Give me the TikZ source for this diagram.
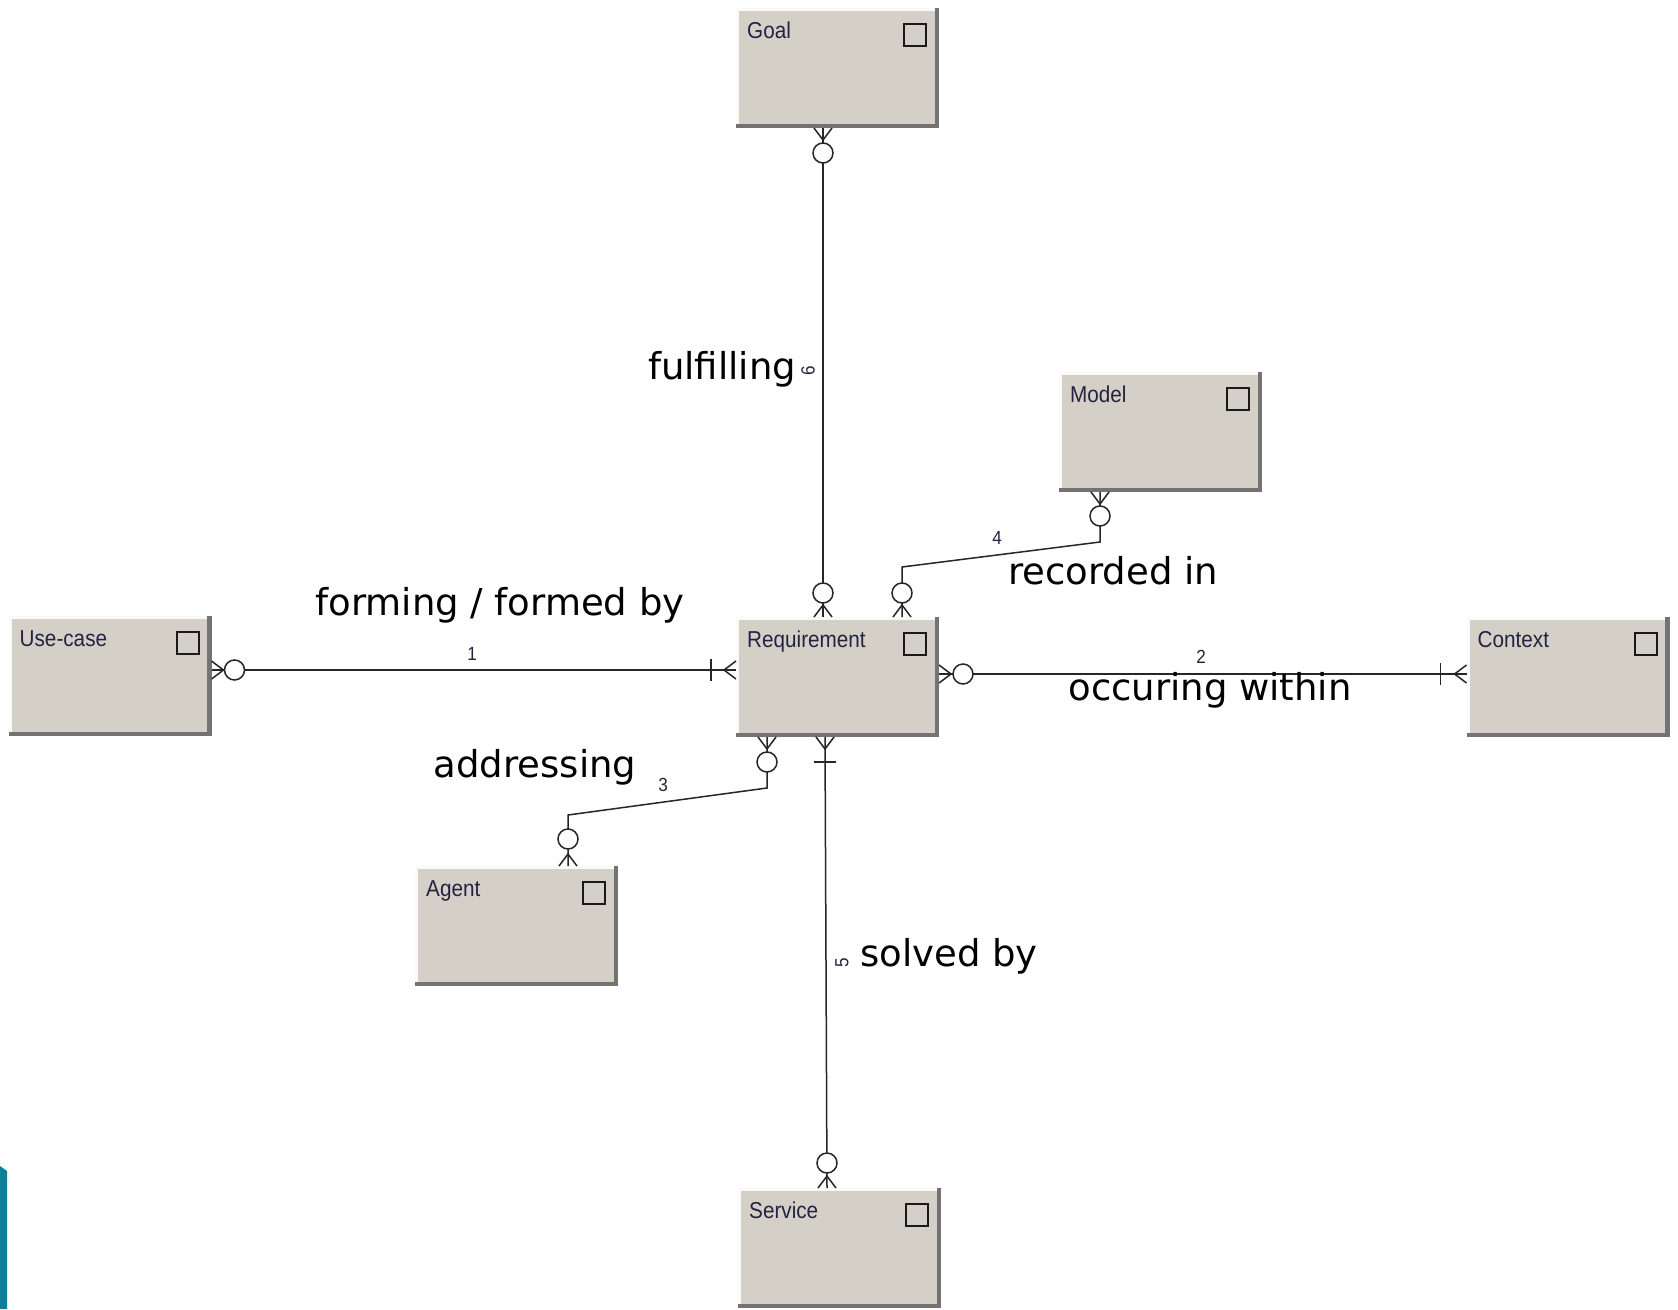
\documentclass[tikz,border=0pt]{standalone}
\usepackage{fontspec}
\setmainfont{DejaVu Sans}
\newfontfamily\entfont[FakeStretch=0.9]{Liberation Sans}
\usetikzlibrary{calc}
\definecolor{entfill}{RGB}{212,208,200}
\definecolor{entdark}{RGB}{115,115,115}
\definecolor{entlite}{RGB}{250,250,248}
\definecolor{enttext}{RGB}{35,35,65}
\definecolor{tealbar}{RGB}{12,128,152}
\tikzset{
 conn/.style={line width=1.5pt, draw=black!85},
 opt/.style={line width=1.5pt, draw=black!85, fill=white},
 entbox/.style={rectangle, fill=entfill, minimum width=203pt, minimum height=120pt, inner sep=0pt, outer sep=0pt},
 enttitle/.style={anchor=base west, inner sep=0pt, font=\entfont\fontsize{23}{23}\selectfont, text=enttext},
 lbl/.style={anchor=base, inner sep=0pt, font=\fontsize{37}{37}\selectfont},
 num/.style={inner sep=0pt, font=\entfont\fontsize{19}{19}\selectfont, text=enttext},
}
\newcommand\entity[4]{%
 \node[entbox] (#1) at (#2,#3) {};
 \draw[entlite, line width=3pt] ([shift={(1.5,-3)}]#1.south west) -- ([shift={(1.5,1.5)}]#1.north west) -- ([shift={(-3,1.5)}]#1.north east);
 \draw[entdark, line width=4.5pt] ([shift={(-2.25,0)}]#1.north east) -- ([shift={(-2.25,-2.25)}]#1.south east) -- ([shift={(0,-2.25)}]#1.south west);
 \node[enttitle] (#1-t) at ([shift={(11,30)}]#1.north west) {#4};
 \draw[line width=2pt, black!90] ([shift={(-35,16)}]#1.north east) rectangle ([shift={(-13,38)}]#1.north east);
}
\newcommand\crowS[1]{\draw[conn] ([shift={(-9,0)}]#1) -- ([shift={(0,12)}]#1) -- ([shift={(9,0)}]#1);}
\newcommand\crowN[1]{\draw[conn] ([shift={(-9,0)}]#1) -- ([shift={(0,-12)}]#1) -- ([shift={(9,0)}]#1);}
\newcommand\crowE[1]{\draw[conn] ([shift={(0,-9)}]#1) -- ([shift={(12,0)}]#1) -- ([shift={(0,9)}]#1);}
\newcommand\crowW[1]{\draw[conn] ([shift={(0,-9)}]#1) -- ([shift={(-12,0)}]#1) -- ([shift={(0,9)}]#1);}
\newcommand\optc[3]{\draw[opt] ([shift={(#2,#3)}]#1) circle[radius=10pt];}
\newcommand\tickV[2]{\draw[conn] ([shift={(-11,#2)}]#1) -- ([shift={(11,#2)}]#1);}
\newcommand\tickH[2]{\draw[conn] ([shift={(#2,-11)}]#1) -- ([shift={(#2,11)}]#1);}
\begin{document}
\begin{tikzpicture}[x=1pt,y=-1pt]
\fill[white] (0,0) rectangle (1678,1309);
\useasboundingbox (0,0) rectangle (1678,1309);
\fill[tealbar] (0,1166) -- (7,1171) -- (7,1309) -- (0,1309) -- cycle;

\entity{goal}{837.5}{68}{Goal}
\entity{model}{1160.5}{432}{Model}
\entity{req}{837.5}{677}{Requirement}
\entity{uc}{110}{676}{Use-case}
\entity{ctx}{1568}{677}{Context}
\entity{agent}{516.5}{926}{Agent}
\entity{svc}{839.5}{1248}{Service}

% reference coordinates for connector positions
\coordinate (xA) at (823,0);
\coordinate (xB) at (902,0);
\coordinate (xM) at (1100,0);
\coordinate (xC) at (767,0);
\coordinate (xG) at (568,0);
\coordinate (xS1) at (825,0);
\coordinate (xS2) at (827,0);
\coordinate (yU) at (0,670);
\coordinate (yX) at (0,674);

\coordinate (goalB) at (goal.south -| xA);
\coordinate (reqT1) at (req.north -| xA);
\coordinate (modelB) at (model.south -| xM);
\coordinate (reqT2) at (req.north -| xB);
\coordinate (m1) at (1100,542);
\coordinate (m2) at (902,567);
\coordinate (ucR) at (uc.east |- yU);
\coordinate (reqL) at (req.west |- yU);
\coordinate (reqR) at (req.east |- yX);
\coordinate (ctxL) at (ctx.west |- yX);
\coordinate (reqB1) at (req.south -| xC);
\coordinate (a1) at (767,788);
\coordinate (a2) at (568,815);
\coordinate (agentT) at (agent.north -| xG);
\coordinate (reqB2) at (req.south -| xS1);
\coordinate (svcT) at (svc.north -| xS2);

% connectors
\draw[conn] (goalB) -- (reqT1);
\draw[conn] (modelB) -- (m1) -- (m2) -- (reqT2);
\draw[conn] (ucR) -- (reqL);
\draw[conn] (reqR) -- (ctxL);
\draw[conn] (reqB1) -- (a1) -- (a2) -- (agentT);
\draw[conn] (reqB2) -- (svcT);

% ends
\crowS{goalB} \optc{goalB}{0}{25}
\crowN{reqT1} \optc{reqT1}{0}{-24}
\crowS{modelB} \optc{modelB}{0}{24}
\crowN{reqT2} \optc{reqT2}{0}{-24}
\crowE{ucR} \optc{ucR}{23}{0}
\crowW{reqL} \tickH{reqL}{-25}
\crowE{reqR} \optc{reqR}{24}{0}
\crowW{ctxL} \tickH{ctxL}{-26}
\crowS{reqB1} \optc{reqB1}{0}{25}
\crowN{agentT} \optc{agentT}{0}{-27}
\crowS{reqB2} \tickV{reqB2}{25}
\crowN{svcT} \optc{svcT}{0}{-25}

% labels
\node[lbl] (lful) at (722,379) {fulfilling};
\node[lbl] (lrec) at (1113,584) {recorded in};
\node[lbl] (lform) at (500,615) {forming / formed by};
\node[lbl] (locc) at (1210,700) {occuring within};
\node[lbl] (laddr) at (535,777) {addressing};
\node[lbl] (lsol) at (949,966) {solved by};

\node[num] (n1) at (472,654) {1};
\node[num] (n2) at (1201,657) {2};
\node[num] (n3) at (663,785) {3};
\node[num] (n4) at (997,538) {4};
\node[num, rotate=90] (n6) at (808,371) {6};
\node[num, rotate=90] (n5) at (842,963) {5};
\end{tikzpicture}
\end{document}
